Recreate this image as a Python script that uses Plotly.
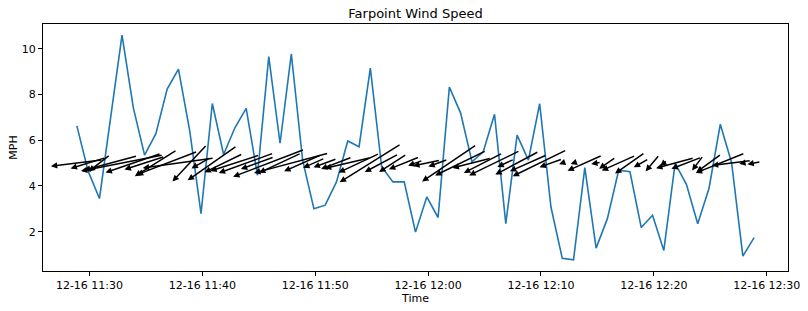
import math
import numpy as np
import pandas as pd
import plotly.graph_objects as go

# ---- data ----
times = pd.date_range("2023-12-16 11:28:53", periods=61, freq="1min")
wind_speed = [6.63, 4.65, 3.45, 7.0, 10.6, 7.43, 5.35, 6.29, 8.24, 9.12,
              6.41, 2.79, 7.61, 5.38, 6.55, 7.4, 4.47, 9.66, 5.87, 9.78,
              5.13, 3.0, 3.16, 4.18, 5.97, 5.72, 9.16, 4.84, 4.18, 4.18,
              1.98, 3.52, 2.62, 8.33, 7.19, 5.06, 5.5, 7.14, 2.35, 6.23,
              5.13, 7.6, 3.08, 0.84, 0.77, 4.8, 1.28, 2.57, 4.69, 4.62,
              2.18, 2.72, 1.18, 4.99, 4.07, 2.35, 3.89, 6.7, 5.03, 0.93,
              1.74]
# meteorological direction the wind blows FROM (degrees)
wind_dir = [83, 73, 52, 75, 79, 71, 72, 58, 69, 82,
            43, 60, 55, 64, 72, 70, 70, 69, 65, 75,
            66, 66, 70, 69, 77, 65, 58, 62, 57, 68,
            70, 78, 70, 56, 64, 76, 63, 64, 65, 62,
            66, 64, 70, 70, 70, 66, 80, 55, 66, 55,
            60, 40, 50, 75, 69, 37, 54, 68, 83, 80,
            79]
y_ticks = [2, 4, 6, 8, 10]

# ---- styling ----
FONT = "DejaVu Sans"
LINE_COLOR = "#1f77b4"
PX_PER_MPH = 7.9  # quiver arrow length scale (screen pixels per mph)

fig = go.Figure()
fig.add_trace(go.Scatter(x=times, y=wind_speed, mode="lines",
                         line=dict(color=LINE_COLOR, width=1.6),
                         showlegend=False, hoverinfo="skip"))

# quiver: arrows centred (pivot middle) on the mean-speed level
y_level = float(np.mean(wind_speed))
annotations = []
for t, s, d in zip(times, wind_speed, wind_dir):
    rad = math.radians(d)
    u = -s * math.sin(rad)
    v = -s * math.cos(rad)
    dx = u * PX_PER_MPH  # screen px, right positive
    dy = v * PX_PER_MPH  # screen px, up positive
    annotations.append(dict(
        x=t, y=y_level, xref="x", yref="y", text="",
        showarrow=True, arrowhead=2, arrowsize=0.85, arrowwidth=1.5,
        arrowcolor="black", standoff=0, startstandoff=0,
        ax=-dx, ay=dy, axref="pixel", ayref="pixel",
        xshift=dx / 2, yshift=dy / 2,
    ))

ymin, ymax = min(wind_speed), max(wind_speed)
ypad = 0.05 * (ymax - ymin)
span = times[-1] - times[0]
xpad = span * 0.05

fig.update_layout(
    width=808, height=311,
    margin=dict(l=43, r=20, t=24, b=40, autoexpand=False),
    paper_bgcolor="white", plot_bgcolor="white",
    font=dict(family=FONT, size=11, color="black"),
    title=dict(text="Farpoint Wind Speed", x=0.5, xref="paper",
               y=1 - 13 / 311, yref="container", yanchor="middle",
               font=dict(family=FONT, size=13, color="black")),
    annotations=annotations,
    showlegend=False,
)
fig.update_xaxes(
    range=[times[0] - xpad, times[-1] + xpad],
    type="date", tickformat="%m-%d %H:%M",
    tick0="2023-12-16 11:30:00", dtick=600000,
    ticks="outside", ticklen=4, tickwidth=1, tickcolor="black",
    showline=True, mirror=True, linecolor="black", linewidth=1,
    showgrid=False, zeroline=False,
    tickfont=dict(family=FONT, size=11, color="black"),
    title=dict(text="Time", font=dict(family=FONT, size=11, color="black"), standoff=2),
)
fig.update_yaxes(
    range=[ymin - ypad, ymax + ypad],
    tickvals=y_ticks, ticktext=[str(v) for v in y_ticks],
    ticks="outside", ticklen=4, tickwidth=1, tickcolor="black",
    showline=True, mirror=True, linecolor="black", linewidth=1,
    showgrid=False, zeroline=False,
    tickfont=dict(family=FONT, size=11, color="black"),
    title=dict(text="MPH", font=dict(family=FONT, size=11, color="black"), standoff=1),
)

fig.write_html("out.html")
